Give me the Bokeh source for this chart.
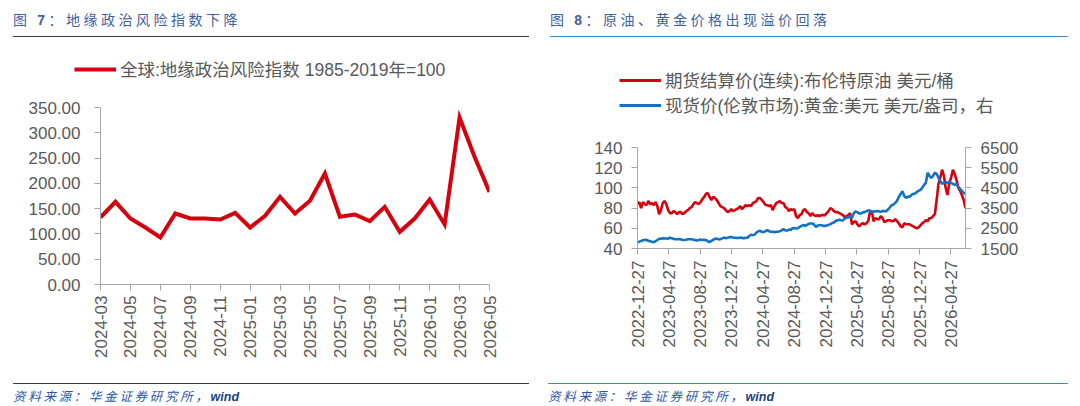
from math import pi

import pandas as pd
from bokeh.embed import file_html
from bokeh.layouts import column, row
from bokeh.models import (ColumnDataSource, DatetimeTickFormatter, Div, FixedTicker,
                          Legend, LegendItem, LinearAxis, PrintfTickFormatter, Range1d)
from bokeh.plotting import figure
from bokeh.resources import INLINE

# ---------------- data: geopolitical risk index (monthly) ----------------
gpr_months = ["2024-03", "2024-04", "2024-05", "2024-06", "2024-07", "2024-08", "2024-09",
              "2024-10", "2024-11", "2024-12", "2025-01", "2025-02", "2025-03", "2025-04",
              "2025-05", "2025-06", "2025-07", "2025-08", "2025-09", "2025-10", "2025-11",
              "2025-12", "2026-01", "2026-02", "2026-03", "2026-04", "2026-05"]
gpr_values = [132.5, 163.5, 130.5, 112.7, 93.0, 140.4, 130.5, 130.5, 128.5, 141.7, 112.7,
              135.8, 173.4, 140.4, 165.5, 219.5, 133.8, 138.4, 125.2, 153.6, 104.2, 130.5,
              168.0, 118.7, 330.3, 252.5, 183.0]
gpr_yticks = [0, 50, 100, 150, 200, 250, 300, 350]
gpr_label = "全球:地缘政治风险指数 1985-2019年=100"

# ---------------- data: Brent and gold (weekly samples) ----------------
px_start = "2022-12-27"
brent = [84, 86, 80, 86, 84, 83, 87, 84, 85, 83, 86, 82, 74,
         78, 85, 87, 84,
         78, 75, 75, 77, 76, 74, 76, 76, 74, 75,
         77, 78, 80, 81, 84, 86, 85, 84, 86,
         89, 91, 94, 95, 91,
         88, 91, 90, 88, 85, 82,
         81, 80, 78, 76, 77, 79,
         77, 78, 79, 80, 82, 79, 81, 83,
         82, 83, 82, 85, 86, 87, 90, 90,
         88, 86, 83, 83, 82, 83, 78,
         82, 85, 86, 87, 85, 85, 81,
         80, 77, 79, 78, 79, 72, 70, 73,
         74, 78, 79, 76, 75, 72,
         75, 73, 72, 73, 72, 73, 73, 73,
         75, 77, 80, 79, 77, 76,
         76, 75, 74, 73, 71, 72, 73, 75,
         64, 66, 67, 64,
         62, 64, 65, 64, 65, 67,
         76, 77, 67,
         70, 69, 69, 72, 70, 66, 67, 68, 68,
         67, 67, 69, 67, 65, 62, 61,
         65, 64, 64, 64, 63, 62, 61, 60,
         61, 63, 65, 66, 68, 67, 70, 70, 72,
         74, 88, 104, 110, 118, 112, 100, 93, 105, 110, 118, 114, 108, 100, 97, 93, 88, 80]
gold = [1815, 1840, 1870, 1905, 1925, 1930, 1880, 1860, 1835, 1815, 1860, 1920, 1975,
        1980, 2010, 2000, 1995, 1990, 2030, 2010, 1975, 1960, 1960, 1960, 1955, 1920,
        1920, 1930, 1955, 1960, 1955, 1935, 1915, 1890, 1915, 1940, 1920, 1925, 1915,
        1860, 1820, 1875, 1930, 1980, 1990, 1950, 1960, 2000, 2040, 2010, 2030, 2060,
        2065, 2040, 2030, 2025, 2020, 2040, 2025, 2015, 2025, 2035, 2120, 2180, 2165,
        2180, 2290, 2350, 2380, 2320, 2320, 2350, 2420, 2350, 2330, 2330, 2310, 2330,
        2330, 2360, 2400, 2460, 2400, 2380, 2440, 2420, 2500, 2510, 2490, 2500, 2570,
        2620, 2660, 2630, 2660, 2720, 2740, 2740, 2680, 2560, 2640, 2650, 2660, 2620,
        2620, 2640, 2670, 2700, 2760, 2790, 2860, 2900, 2920, 2900, 2890, 2980, 3020,
        3040, 3110, 3020, 3240, 3330, 3300, 3240, 3230, 3290, 3300, 3340, 3390, 3370,
        3300, 3340, 3330, 3350, 3340, 3310, 3360, 3350, 3340, 3430, 3530, 3640, 3680,
        3760, 3860, 4050, 4200, 4330, 4100, 4000, 4080, 4050, 4150, 4200, 4220, 4300,
        4350, 4400, 4500, 4650, 4750, 5250, 5100, 5000, 5100, 5250, 5200, 5000, 4850,
        4700, 4750, 4800, 4750, 4800, 4750, 4700, 4650, 4700, 4550, 4450, 4350, 4250,
        4200]
brent_yticks = [40, 60, 80, 100, 120, 140]
gold_yticks = [1500, 2500, 3500, 4500, 5500, 6500]
px_xticks = ["2022-12-27", "2023-04-27", "2023-08-27", "2023-12-27", "2024-04-27",
             "2024-08-27", "2024-12-27", "2025-04-27", "2025-08-27", "2025-12-27",
             "2026-04-27"]
brent_label = "期货结算价(连续):布伦特原油 美元/桶"
gold_label = "现货价(伦敦市场):黄金:美元 美元/盎司，右"

# ---------------- styling ----------------
RED = "#d6000f"
BLUE = "#1272c4"
GREY_TXT = "#595959"
AXIS = "#a6a6a6"
FONT = "'Liberation Sans', 'Noto Sans CJK SC'"
CJK = "'Noto Sans CJK SC'"
PANEL_W = 540
TITLE_H = 46
FOOT_H = 30
BODY_H = 406 - TITLE_H - FOOT_H


def header(num, text, rule_color, left, rule_w, rule_top):
    html = (
        f'<div style="position:relative;width:{PANEL_W}px;height:{TITLE_H}px;">'
        f'<div style="position:absolute;left:{left}px;top:9px;font-family:{CJK};'
        f'font-size:14px;letter-spacing:3.5px;color:#41609e;white-space:nowrap;">'
        f'图 <b style="font-family:\'Liberation Sans\';">{num}</b>：{text}</div>'
        f'<div style="position:absolute;left:{left}px;top:{rule_top}px;width:{rule_w}px;'
        f'height:0;border-top:1.5px solid {rule_color};"></div></div>'
    )
    return Div(text=html, width=PANEL_W, height=TITLE_H, margin=0)


def footer(rule_color, left, rule_w):
    html = (
        f'<div style="position:relative;width:{PANEL_W}px;height:{FOOT_H}px;">'
        f'<div style="position:absolute;left:{left}px;top:7px;width:{rule_w}px;'
        f'height:0;border-top:1.5px solid {rule_color};"></div>'
        f'<div style="position:absolute;left:{left}px;top:11px;font-family:{CJK};'
        f'font-size:12.5px;font-style:italic;letter-spacing:2.7px;color:#2a58a6;'
        f'white-space:nowrap;">资料来源：华金证券研究所，'
        f'<span style="font-family:\'Liberation Sans\';font-weight:bold;letter-spacing:0;'
        f'color:#1d3f86;">wind</span></div></div>'
    )
    return Div(text=html, width=PANEL_W, height=FOOT_H, margin=0)


def style_axis(ax):
    ax.axis_line_color = AXIS
    ax.axis_line_width = 1
    ax.major_tick_line_color = AXIS
    ax.major_tick_in = 0
    ax.major_tick_out = 6
    ax.minor_tick_line_color = None
    ax.major_label_text_color = GREY_TXT
    ax.major_label_text_font = FONT
    ax.major_label_text_font_size = "17px"


def legend_strip(height, entries, loc):
    """A strip above a chart holding its legend; entries are (label, colour, width)."""
    s = figure(width=PANEL_W, height=height, output_backend="svg", toolbar_location=None,
               x_range=Range1d(0, 10), y_range=Range1d(0, 10),
               x_axis_location=None, y_axis_location=None, frame_align=False,
               min_border_left=0, min_border_right=0, min_border_top=0, min_border_bottom=0)
    s.grid.visible = False
    s.outline_line_color = None
    items = []
    for label, color, width in entries:
        # keys drawn off the visible range: only their legend swatch is seen
        r = s.line(x=[-5, -4], y=[-5, -5], line_color=color, line_width=width)
        items.append(LegendItem(label=label, renderers=[r]))
    lg = Legend(items=items, location=loc, orientation="vertical")
    lg.border_line_color = None
    lg.background_fill_alpha = 0
    lg.padding = 0
    lg.margin = 0
    lg.label_text_font = FONT
    lg.label_text_font_size = "17.5px"
    lg.label_text_color = GREY_TXT
    lg.label_standoff = 4
    lg.glyph_width = 42
    lg.glyph_height = 20
    lg.label_height = 20
    lg.spacing = 0
    s.add_layout(lg, "center")
    return s


# ---------------- left panel: geopolitical risk ----------------
LEG1_H = 50
CH1_H = BODY_H - LEG1_H
gpr_src = ColumnDataSource(dict(x=list(range(len(gpr_months))), y=gpr_values))
p1 = figure(width=PANEL_W, height=CH1_H, output_backend="svg", toolbar_location=None,
            x_range=Range1d(0, len(gpr_months) - 1), y_range=Range1d(0, 350),
            frame_align=False,
            min_border_left=100, min_border_right=51, min_border_top=11,
            min_border_bottom=92)
p1.outline_line_color = None
p1.grid.visible = False
p1.line("x", "y", source=gpr_src, line_color=RED, line_width=4, line_join="miter")

for ax in p1.xaxis + p1.yaxis:
    style_axis(ax)
p1.xaxis.ticker = FixedTicker(ticks=list(range(0, len(gpr_months), 2)))
p1.xaxis.major_label_overrides = {i: gpr_months[i] for i in range(0, len(gpr_months), 2)}
p1.xaxis.major_label_orientation = pi / 2
p1.xaxis.major_label_standoff = 5
p1.yaxis.ticker = FixedTicker(ticks=gpr_yticks)
p1.yaxis.formatter = PrintfTickFormatter(format="%.2f")
p1.yaxis.major_label_standoff = 14

leg1 = legend_strip(LEG1_H, [(gpr_label, RED, 4)], (74, 15))

# ---------------- right panel: Brent and gold ----------------
LEG2_H = 82
CH2_H = BODY_H - LEG2_H
dates = pd.date_range(px_start, periods=len(brent), freq="7D")
px_src = ColumnDataSource(dict(d=dates, brent=brent, gold=gold))
p2 = figure(width=PANEL_W, height=CH2_H, output_backend="svg", toolbar_location=None,
            x_axis_type="datetime", x_range=Range1d(dates[0], dates[-1]),
            y_range=Range1d(40, 140), frame_align=False,
            min_border_left=97, min_border_right=115, min_border_top=19,
            min_border_bottom=128)
p2.extra_y_ranges = {"gold": Range1d(1500, 6500)}
p2.outline_line_color = None
p2.grid.visible = False
p2.line("d", "brent", source=px_src, line_color=RED, line_width=2.6)
p2.line("d", "gold", source=px_src, line_color=BLUE, line_width=2.6, y_range_name="gold")

gold_axis = LinearAxis(y_range_name="gold")
p2.add_layout(gold_axis, "right")
for ax in p2.xaxis + p2.yaxis:
    style_axis(ax)
p2.xaxis.ticker = FixedTicker(ticks=[pd.Timestamp(t).value / 1e6 for t in px_xticks])
p2.xaxis.formatter = DatetimeTickFormatter(
    days="%Y-%m-%d", months="%Y-%m-%d", years="%Y-%m-%d", hours="%Y-%m-%d")
p2.xaxis.major_label_orientation = pi / 2
p2.xaxis.major_label_standoff = 6
p2.yaxis[0].ticker = FixedTicker(ticks=brent_yticks)
gold_axis.ticker = FixedTicker(ticks=gold_yticks)
p2.yaxis[0].major_label_standoff = 9
gold_axis.major_label_standoff = 9

leg2 = legend_strip(LEG2_H, [(brent_label, RED, 3), (gold_label, BLUE, 3)], (79, 11))

left = column(header("7", "地缘政治风险指数下降", "#3a3a3a", 13, 516, 36), leg1, p1,
              footer("#3a3a3a", 13, 516), spacing=0)
right = column(header("8", "原油、黄金价格出现溢价回落", "#3b8fcf", 10, 518, 36), leg2, p2,
               footer("#3b8fcf", 8, 520), spacing=0)
page = row(left, right, spacing=0)

open("out.html", "w").write(file_html(page, INLINE, title="地缘政治风险与原油、黄金价格"))
